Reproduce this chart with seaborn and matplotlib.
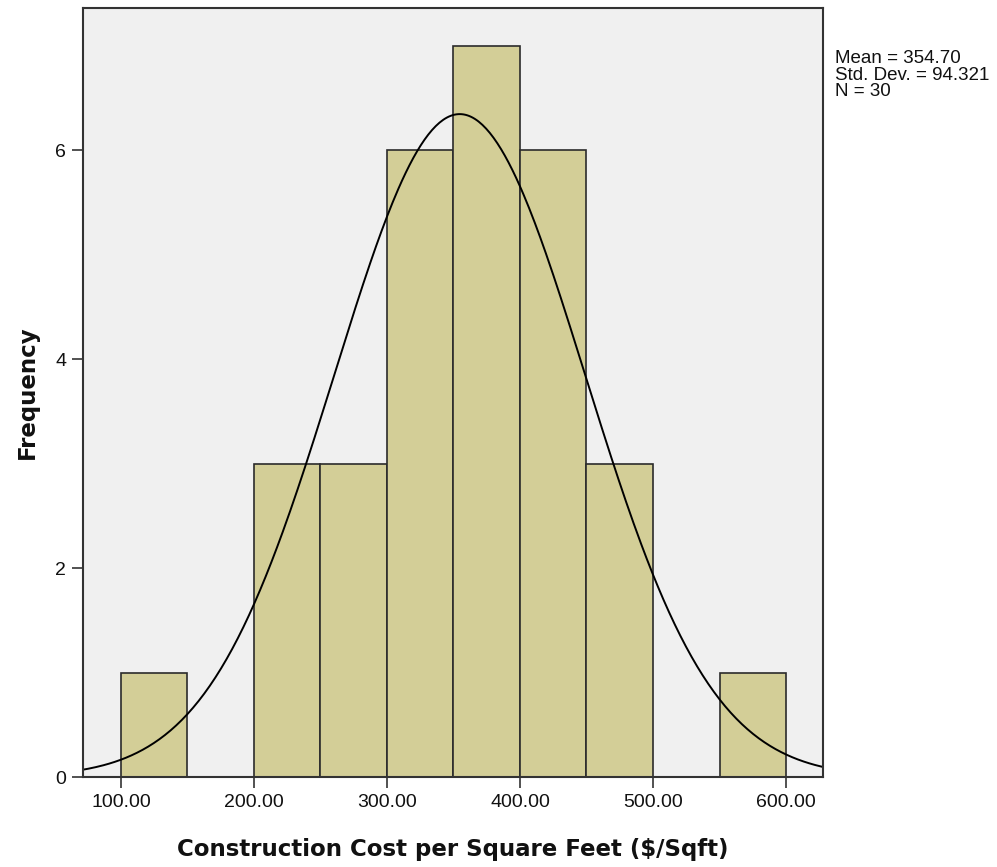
import numpy as np
import pandas as pd
import matplotlib
matplotlib.use("Agg")
import matplotlib.pyplot as plt
import seaborn as sns

# histogram bins (width 50) and frequencies
bin_edges = [100, 150, 200, 250, 300, 350, 400, 450, 500, 550, 600]
bin_counts = [1, 0, 3, 3, 6, 7, 6, 3, 0, 1]
mean_val = 354.70
sd_val = 94.321
n_val = 30

x_ticks = [100, 200, 300, 400, 500, 600]
y_ticks = [0, 2, 4, 6]

sns.set_style("white")
plt.rcParams['font.family'] = ['Liberation Sans', 'DejaVu Sans']

centers = [(a + b) / 2 for a, b in zip(bin_edges[:-1], bin_edges[1:])]
df = pd.DataFrame({"cost": centers, "count": bin_counts})

fig = plt.figure(figsize=(9.97, 8.67), dpi=100)
ax = fig.add_axes([83 / 997, 1 - 777 / 867, (823 - 83) / 997, (777 - 8) / 867])
ax.set_facecolor("#F0F0F0")

sns.histplot(data=df, x="cost", weights="count", bins=bin_edges, ax=ax,
             color="#D3CE97", alpha=1.0, edgecolor="#2b2b2b", linewidth=1.2)

# normal curve scaled to the histogram
xs = np.linspace(70, 630, 400)
binw = bin_edges[1] - bin_edges[0]
ys = n_val * binw / (sd_val * np.sqrt(2 * np.pi)) * np.exp(-0.5 * ((xs - mean_val) / sd_val) ** 2)
sns.lineplot(x=xs, y=ys, ax=ax, color="black", linewidth=1.4)

ax.set_xlim(71.5, 627.8)
ax.set_ylim(0, 7.36)
ax.set_xticks(x_ticks)
ax.set_xticklabels([f"{v:.2f}" for v in x_ticks], fontsize=14, color="#111111")
ax.set_yticks(y_ticks)
ax.set_yticklabels([str(v) for v in y_ticks], fontsize=14, color="#111111")
ax.tick_params(axis="both", direction="out", length=8, width=1.2, color="#333333",
               bottom=True, left=True, pad=4)

for s in ax.spines.values():
    s.set_color("#333333")
    s.set_linewidth(1.5)

ax.set_xlabel("Construction Cost per Square Feet ($/Sqft)", fontsize=16.5,
              fontweight="bold", labelpad=20, family="DejaVu Sans", color="#111111")
ax.set_ylabel("Frequency", fontsize=16.5, fontweight="bold", labelpad=12,
              family="DejaVu Sans", color="#111111")

fig.text(835 / 997, 1 - 75 / 867,
         f"Mean = {mean_val:.2f}\nStd. Dev. = {sd_val:.3f}\nN = {n_val}",
         fontsize=13.5, va="center", ha="left", linespacing=0.95, color="#111111")

fig.savefig("out.png", dpi=100)
